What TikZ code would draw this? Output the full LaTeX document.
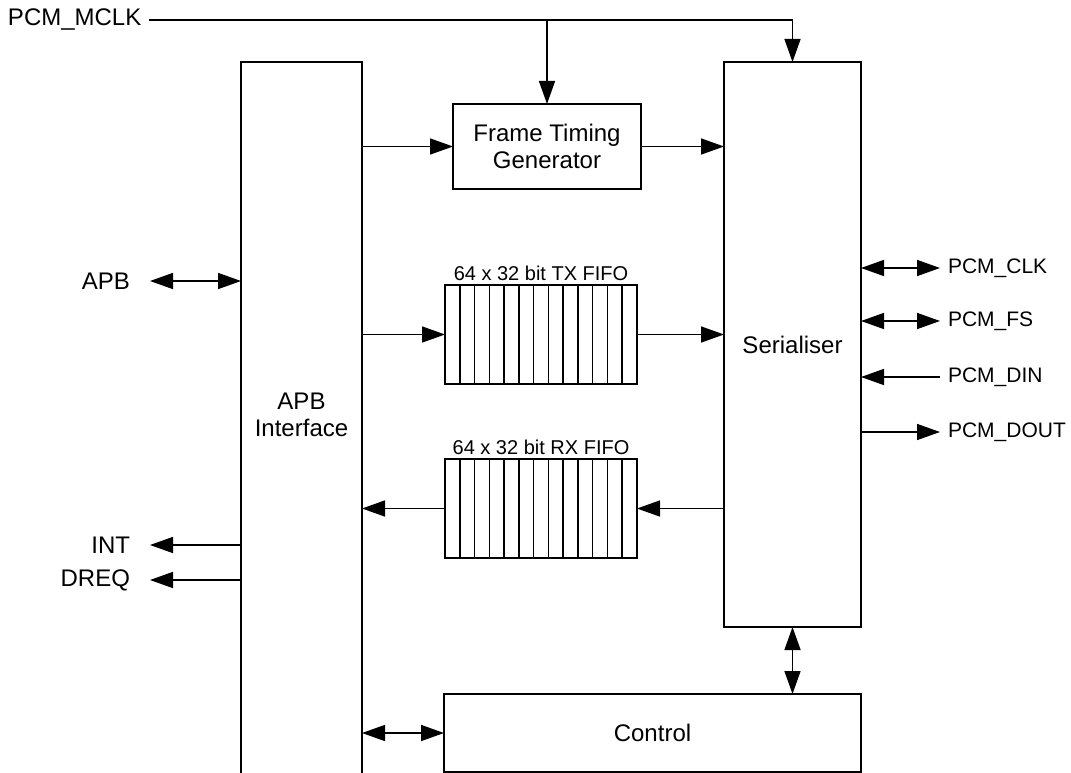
\documentclass[tikz,border=0pt]{standalone}
\usepackage{fontspec}
\setmainfont{Liberation Sans}
\usetikzlibrary{arrows.meta, positioning}

\begin{document}
\begin{tikzpicture}[x=1pt, y=-1pt, line width=1.5pt,
    every node/.style={font=\fontsize{24}{27}\selectfont},
    blk/.style={draw, inner sep=0pt, outer sep=0pt, align=center},
    fifo/.style={draw, inner sep=0pt, outer sep=0pt, minimum width=192pt, minimum height=99pt},
    pin/.style={inner sep=0pt, outer xsep=8pt, font=\fontsize{21}{25}\selectfont},
    lpin/.style={inner sep=0pt, outer xsep=20pt, anchor=east},
    tip/.style={-{Triangle[length=23pt, width=16pt]}},
    tips/.style={{Triangle[length=23pt, width=16pt]}-{Triangle[length=23pt, width=16pt]}}]
  \useasboundingbox (0,0) rectangle (1071,773);
  \clip (0,0) rectangle (1071,773);

  % blocks
  \node[blk, minimum width=121pt, minimum height=738pt] (apb) at (301.5,431) {};
  \node[align=center] at (301.5,415) {APB\\Interface};
  \node[blk, minimum width=188pt, minimum height=85pt] (ftg) at (547,146.5) {Frame Timing\\Generator};
  \node[blk, minimum width=137pt, minimum height=565pt] (ser) at (792.5,344.5) {Serialiser};
  \node[blk, minimum width=417pt, minimum height=78pt] (ctrl) at (652.5,733) {Control};

  % fifos
  \node[fifo] (tx) at (541,334.5) {};
  \node[fifo] (rx) at (541,508.5) {};
  \foreach \f in {tx, rx}
    \foreach \i in {1,...,12}
      \draw (\f.north west) ++(\i*192/13,0) -- ++(0,99);
  \node[above=4pt of tx, inner sep=0pt, font=\fontsize{20}{24}\selectfont] (txl) {64 x 32 bit TX FIFO};
  \node[above=4pt of rx, inner sep=0pt, font=\fontsize{20}{24}\selectfont] (rxl) {64 x 32 bit RX FIFO};

  % clock
  \node[inner sep=0pt, outer xsep=8pt, anchor=west] (mclk) at (0,20) {PCM\_MCLK};
  \draw[tip] (mclk.east) -| (ser.north);
  \draw[tip] (mclk.east -| ftg.north) -- (ftg.north);

  % data paths
  \draw[tip] (apb.east |- ftg.west) -- (ftg.west);
  \draw[tip] (ftg.east) -- (ser.west |- ftg.east);
  \draw[tip] (apb.east |- tx.west) -- (tx.west);
  \draw[tip] (tx.east) -- (ser.west |- tx.east);
  \draw[tip] (ser.west |- rx.east) -- (rx.east);
  \draw[tip] (rx.west) -- (apb.east |- rx.west);
  \draw[tips] (ser.south) -- (ser.south |- ctrl.north);
  \draw[tips] (apb.east |- ctrl.west) -- (ctrl.west);

  % left pins
  \node[lpin] (apbp) at (150,281) {APB};
  \node[lpin] (int) at (150,545) {INT};
  \node[lpin] (dreq) at (150,580) {DREQ};
  \draw[tips] (apbp.east) -- (apb.west |- apbp.east);
  \draw[tip] (apb.west |- int.east) -- (int.east);
  \draw[tip] (apb.west |- dreq.east) -- (dreq.east);

  % right pins
  \node[pin, anchor=west] (clk) at (940,268) {PCM\_CLK};
  \node[pin, anchor=west] (fs) at (940,321) {PCM\_FS};
  \node[pin, anchor=west] (din) at (940,377) {PCM\_DIN};
  \node[pin, anchor=west] (dout) at (940,432) {PCM\_DOUT};
  \draw[tips] (ser.east |- clk.west) -- (clk.west);
  \draw[tips] (ser.east |- fs.west) -- (fs.west);
  \draw[tip] (din.west) -- (ser.east |- din.west);
  \draw[tip] (ser.east |- dout.west) -- (dout.west);
\end{tikzpicture}
\end{document}
